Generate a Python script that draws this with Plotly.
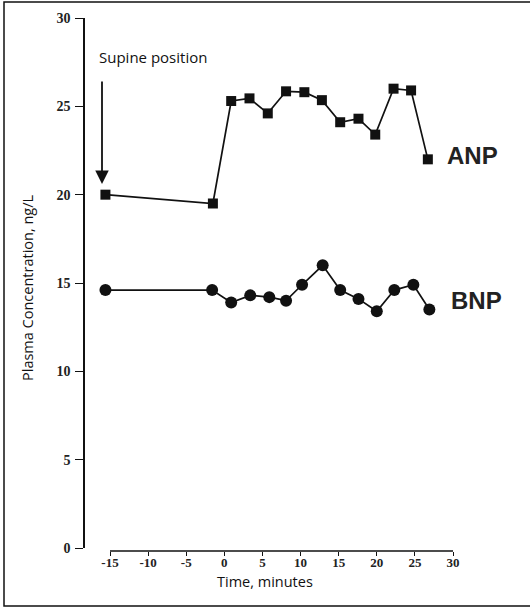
import plotly.graph_objects as go

# Sampling times (minutes) and plasma concentrations (ng/L)
time_anp = [-15.6, -1.5, 0.9, 3.3, 5.7, 8.1, 10.5, 12.8, 15.2, 17.6, 19.8, 22.2, 24.5, 26.7]
anp = [20.0, 19.5, 25.3, 25.45, 24.6, 25.85, 25.8, 25.35, 24.1, 24.3, 23.4, 26.0, 25.9, 22.0]

time_bnp = [-15.6, -1.6, 0.9, 3.4, 5.9, 8.1, 10.2, 12.9, 15.2, 17.6, 20.0, 22.3, 24.8, 26.9]
bnp = [14.6, 14.6, 13.9, 14.3, 14.2, 14.0, 14.9, 16.0, 14.6, 14.1, 13.4, 14.6, 14.9, 13.5]

x_ticks = [-15, -10, -5, 0, 5, 10, 15, 20, 25, 30]
y_ticks = [0, 5, 10, 15, 20, 25, 30]

W, H = 530, 608
INK = "#111111"

# pixel layout of the plotting region
X_LEFT_PX, X_RIGHT_PX = 85, 470          # y-axis line / right edge of plot area
PX_PER_MIN = (453 - 110) / 45.0           # -15 -> 110 px, 30 -> 453 px
x_lo = -15 + (X_LEFT_PX - 110) / PX_PER_MIN
x_hi = -15 + (X_RIGHT_PX - 110) / PX_PER_MIN
Y_TOP_PX, Y_BOT_PX = 18, 548              # 30 and 0 on the y scale
X_AXIS_PX = 551


def px(x):
    return x / W


def py(y):
    return (H - y) / H


fig = go.Figure()

fig.add_trace(go.Scatter(
    x=time_anp, y=anp, mode="lines+markers", name="ANP",
    line=dict(color=INK, width=1.7),
    marker=dict(symbol="square", size=10, color=INK),
    cliponaxis=False,
))
fig.add_trace(go.Scatter(
    x=time_bnp, y=bnp, mode="lines+markers", name="BNP",
    line=dict(color=INK, width=1.7),
    marker=dict(symbol="circle", size=12, color=INK),
    cliponaxis=False,
))

fig.update_layout(
    width=W, height=H,
    margin=dict(l=0, r=0, t=0, b=0, pad=0, autoexpand=False),
    paper_bgcolor="white", plot_bgcolor="white",
    showlegend=False,
    xaxis=dict(
        domain=[px(X_LEFT_PX), px(X_RIGHT_PX)],
        range=[x_lo, x_hi],
        anchor="free", position=py(X_AXIS_PX),
        tickvals=x_ticks, ticktext=[f"<b>{v}</b>" for v in x_ticks],
        ticks="outside", ticklen=4, tickwidth=1.3, tickcolor=INK,
        showline=False, showgrid=False, zeroline=False, automargin=False,
        tickfont=dict(family="Liberation Serif", size=13, color="#222222"),
        ticklabelstandoff=-5,
    ),
    yaxis=dict(
        domain=[py(Y_BOT_PX), py(Y_TOP_PX)],
        range=[0, 30],
        tickvals=y_ticks, ticktext=[f"<b>{v}</b>" for v in y_ticks],
        ticks="outside", ticklen=8, tickwidth=1.3, tickcolor=INK,
        showline=True, linecolor=INK, linewidth=1.5,
        showgrid=False, zeroline=False, automargin=False,
        tickfont=dict(family="Liberation Serif", size=14, color="#222222"),
        ticklabelstandoff=2,
    ),
    font=dict(family="Open Sans", color=INK),
)

# x-axis baseline spanning -15 .. 30
fig.add_shape(type="line", xref="x", yref="paper",
              x0=-15, x1=30, y0=py(X_AXIS_PX), y1=py(X_AXIS_PX),
              line=dict(color=INK, width=1.5))

# frame around the figure
fig.add_shape(type="rect", xref="paper", yref="paper",
              x0=px(4), x1=px(532), y0=py(606), y1=py(2),
              line=dict(color=INK, width=1.5))


def label(text, x, y, size, family="Open Sans", xanchor="center", angle=0,
          color=INK):
    fig.add_annotation(text=text, xref="paper", yref="paper",
                       x=px(x), y=py(y), xanchor=xanchor, yanchor="middle",
                       textangle=angle, showarrow=False,
                       font=dict(family=family, size=size, color=color))


# axis titles
label("Time, minutes", 265, 581, 14.5)
label("Plasma Concentration, ng/L", 27, 288, 14.5, angle=-90)

# series labels
label("<b>ANP</b>", 445, 156, 24, family="Liberation Sans", xanchor="left",
      color="#222222")
label("<b>BNP</b>", 449, 300, 24, family="Liberation Sans", xanchor="left",
      color="#222222")

# supine position marker
label("Supine position", 97, 57, 15, xanchor="left")
fig.add_annotation(text="", xref="paper", yref="paper",
                   x=px(102), y=py(184), ax=0, ay=-104,
                   showarrow=True, arrowhead=2, arrowsize=1.5, arrowwidth=1.8,
                   arrowcolor=INK)

fig.write_html("out.html")
